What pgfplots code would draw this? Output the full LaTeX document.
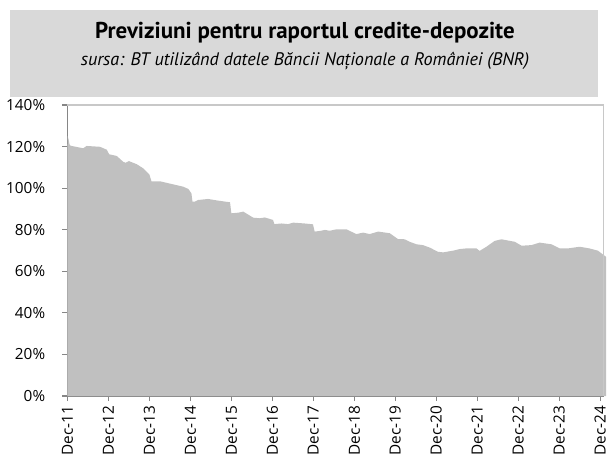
\documentclass[border=0pt]{standalone}
\usepackage{pgfplots}
\pgfplotsset{compat=1.18}
\usepackage{fontspec}
\setmainfont{Open Sans}
\newfontfamily\ptsans{PT Sans}
\definecolor{areagray}{HTML}{C0C0C0}
\definecolor{boxgray}{HTML}{D9D9D9}
\definecolor{axisgray}{HTML}{868686}
\definecolor{bordergray}{HTML}{C8C8C8}
\begin{document}
\begin{tikzpicture}
\path[use as bounding box] (-50.625pt,-51pt) rectangle (406.125pt,297pt);
\fill[boxgray] (-43.125pt,224.25pt) rectangle (397.875pt,289.5pt);
\node[font=\ptsans\bfseries\fontsize{17.2}{20}\selectfont] at (178.1pt,272.5pt) {Previziuni pentru raportul credite-depozite};
\node[font=\ptsans\itshape\fontsize{13.6}{16}\selectfont] at (178.1pt,251.5pt) {sursa: BT utilizând datele Băncii Naționale a României (BNR)};
\begin{axis}[
  at={(0pt,0pt)}, anchor=south west,
  scale only axis, width=402pt, height=218.25pt,
  xmin=0, xmax=157, ymin=0, ymax=140,
  clip=false,
  axis x line*=bottom, axis y line*=left,
  axis line style={axisgray, line width=0.9pt},
  every outer x axis line/.append style={-}, every outer y axis line/.append style={-},
  tick align=outside, major tick length=3.75pt,
  tick style={axisgray, line width=0.8pt},
  ytick={0,20,...,140},
  yticklabel={\pgfmathprintnumber{\tick}\%},
  xtick={0,12,...,156},
  xticklabels={Dec-11,Dec-12,Dec-13,Dec-14,Dec-15,Dec-16,Dec-17,Dec-18,Dec-19,Dec-20,Dec-21,Dec-22,Dec-23,Dec-24},
  xticklabel style={rotate=90, anchor=east, font=\fontsize{11.5}{13}\selectfont},
  yticklabel style={font=\fontsize{11.5}{13}\selectfont, xshift=-9.5pt},
  /pgf/number format/assume math mode=true,
]
\addplot[fill=areagray, draw=none] table {
x y
0 121
0.05 125
0.3 123.5
0.6 121
0.9 120.4
2.7 119.8
4.6 119.2
5.6 120.3
9.5 119.9
11.5 118.5
12.2 116.3
14.4 115.5
16.3 112.7
17.0 112.2
18.0 113.0
20.3 111.5
22.2 109.5
24.0 106.5
24.6 103.3
27.1 103.3
31 101.8
33.9 100.7
35.4 99.6
36.3 97.5
36.6 93.5
37.3 93.5
38.3 94.3
41.2 94.8
44.1 94.0
47.6 93.2
48.0 87.9
50 88.2
51.5 88.7
54.4 85.8
56.3 85.5
57.8 85.9
60.2 84.7
60.6 82.7
62.7 83.0
64.6 82.7
66.1 83.4
69.5 83.0
71.9 82.6
72.4 79.1
73.9 79.4
75.4 79.9
76.8 79.5
78.8 80.2
81.7 80.2
84.6 77.9
86.6 78.6
88.5 77.9
91 79.1
94.4 78.3
96.8 75.5
98.8 75.4
100.2 74.2
102.2 73.0
104.1 72.6
106.1 71.4
108.5 69.4
110 69.1
112.9 69.9
114.9 70.7
116.8 71.0
119.8 71.0
120.7 69.8
122.7 71.8
125.1 74.6
127.1 75.4
131 74.2
133 72.3
135.9 72.6
138.3 73.8
141.7 73.0
144.2 71.0
146.6 71.0
150 71.8
152.9 71.0
155.4 69.9
156.4 68.6
157.8 66.9
157.8 0
} \closedcycle;
\draw[bordergray, line width=0.9pt] (rel axis cs:0,1) -- (rel axis cs:1,1) -- (rel axis cs:1,0);
\end{axis}
\end{tikzpicture}
\end{document}
